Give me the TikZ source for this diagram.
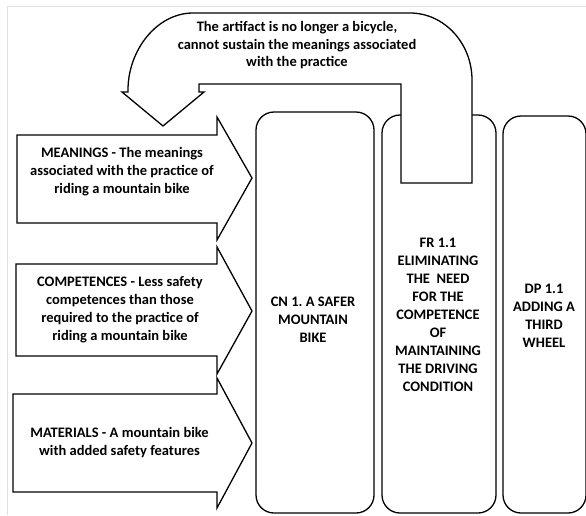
\documentclass[tikz,border=0pt]{standalone}
\usepackage{fontspec}
\setmainfont{Carlito}
\frenchspacing
\begin{document}
\begin{tikzpicture}[x=1pt,y=-1pt,
  shape line/.style={draw=black,line width=1.3pt,fill=white,line join=miter},
  colbox/.style={draw=black,line width=1.3pt,fill=white,rounded corners=18pt,inner sep=0pt},
  lbl/.style={align=center,inner sep=0pt,font=\fontsize{14.5}{18}\selectfont\bfseries},
  frame line/.style={draw=black!12,line width=1pt}]
\useasboundingbox (0,0) rectangle (586,515);
\fill[white] (0,0) rectangle (586,515);
% light frame
\draw[frame line] (586,6) -- (7,6) -- (7,515);
% columns
\node[colbox,minimum width=118pt,minimum height=401pt] (cnbox) at (315,312.5) {};
\node[colbox,minimum width=114pt,minimum height=398pt] (frbox) at (439,314) {};
\node[colbox,minimum width=83pt,minimum height=397pt] (dpbox) at (544.5,314.5) {};
% U-turn arrow
\draw[shape line] (199,84) -- (401,84) -- (401,183) -- (472,183) -- (472,80)
  .. controls (472,43) and (444,13) .. (410,13) -- (193,13)
  .. controls (157,13) and (128,50) .. (128,90) -- (128,92) -- (122,92)
  -- (163,126) -- (204,92) -- (199,92) -- cycle;
% input arrows
\draw[shape line] (17,135) -- (217,135) -- (217,117) -- (252,178) -- (217,240) -- (217,223) -- (17,223) -- cycle;
\draw[shape line] (16,264) -- (217,264) -- (217,247) -- (252,311) -- (217,374) -- (217,356) -- (16,356) -- cycle;
\draw[shape line] (13,394) -- (217,394) -- (217,378) -- (252,443) -- (217,508) -- (217,492) -- (13,492) -- cycle;
% labels
\node[lbl,font=\fontsize{14.5}{17.5}\selectfont\bfseries] (loop) at (297,45.5) {The artifact is no longer a bicycle,\\cannot sustain the meanings associated\\with the practice};
\node[lbl] (mean) at (122,172) {MEANINGS - The meanings\\associated with the practice of\\riding a mountain bike};
\node[lbl] (comp) at (120,310) {COMPETENCES - Less safety\\competences than those\\required to the practice of\\riding a mountain bike};
\node[lbl] (mat) at (119.5,442.5) {MATERIALS - A mountain bike\\with added safety features};
\node[lbl] (cn) at (313,320) {CN 1. A SAFER\\MOUNTAIN\\BIKE};
\node[lbl] (fr) at (438,314.5) {FR 1.1\\ELIMINATING\\THE\ \ NEED\\FOR THE\\COMPETENCE\\OF\\MAINTAINING\\THE DRIVING\\CONDITION};
\node[lbl] (dp) at (544,316) {DP 1.1\\ADDING A\\THIRD\\WHEEL};
\end{tikzpicture}
\end{document}
